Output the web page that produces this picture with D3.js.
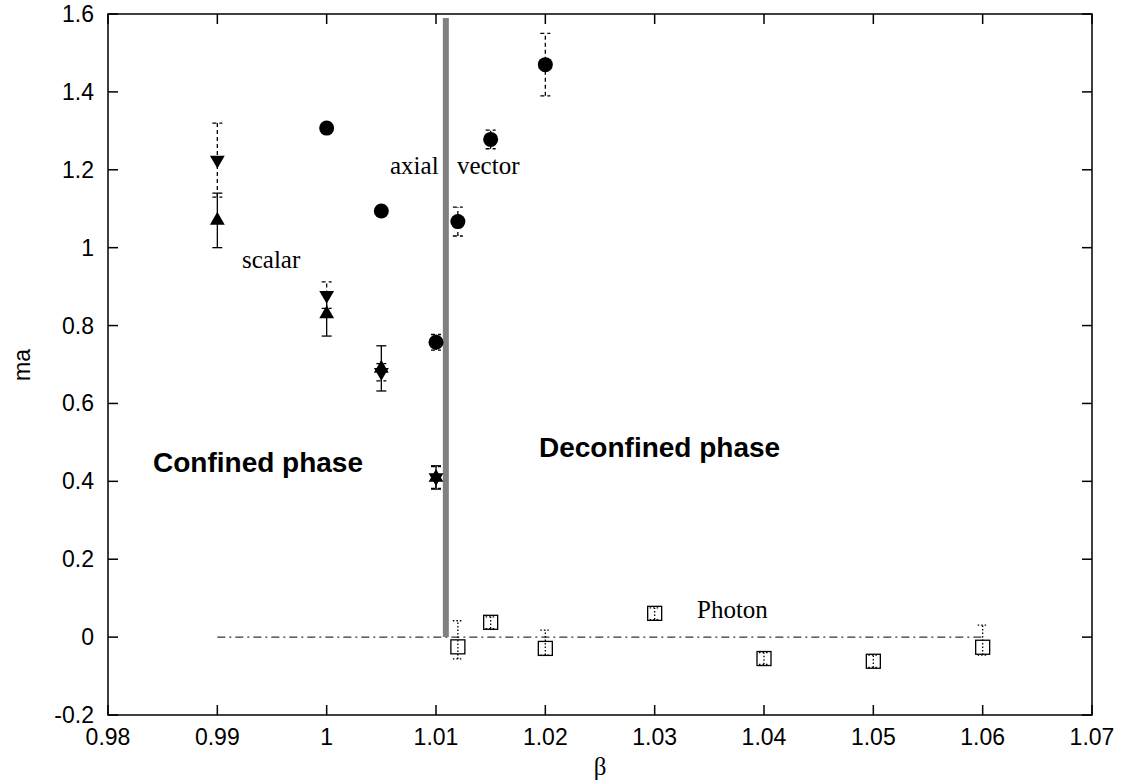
<!DOCTYPE html>
<html lang="en">
<head>
    <meta charset="UTF-8">
    <title>ma vs beta</title>
    <script src="https://d3js.org/d3.v7.min.js"></script>
    <style>
        body { margin: 0; background: #fff; }
        .tick-label { font-family: "Liberation Sans", Arial, sans-serif; font-size: 23px; fill: #000; }
        .note { font-family: "Liberation Serif", "Times New Roman", serif; font-size: 25px; fill: #000; }
        .phase { font-family: "Liberation Sans", Arial, sans-serif; font-size: 28px; font-weight: bold; fill: #000; }
    </style>
</head>
<body>
<div id="chart"></div>
<script>
// scalar channel: up triangles (solid bars) and down triangles (dashed bars)
const scalarBeta = [0.99, 1.0, 1.005, 1.01];
const scalarUp = [1.07, 0.83, 0.69, 0.41];
const scalarUpErr = [0.07, 0.057, 0.058, 0.03];
const scalarDown = [1.225, 0.878, 0.68, 0.41];
const scalarDownErr = [0.095, 0.034, 0.022, 0.028];

// axial vector channel: circles (dashed bars)
const axialBeta = [1.0, 1.005, 1.01, 1.012, 1.015, 1.02];
const axialMass = [1.307, 1.094, 0.757, 1.067, 1.278, 1.47];
const axialErr = [0, 0, 0.02, 0.037, 0.024, 0.08];

// photon: squares (dotted bars)
const photonBeta = [1.012, 1.015, 1.02, 1.03, 1.04, 1.05, 1.06];
const photonMass = [-0.025, 0.038, -0.029, 0.061, -0.055, -0.062, -0.026];
const photonLo = [-0.056, 0.022, -0.046, 0.045, -0.07, -0.078, -0.046];
const photonHi = [0.042, 0.052, 0.018, 0.075, -0.04, -0.046, 0.031];

const xTicks = [0.98, 0.99, 1.0, 1.01, 1.02, 1.03, 1.04, 1.05, 1.06, 1.07];
const yTicks = [-0.2, 0, 0.2, 0.4, 0.6, 0.8, 1.0, 1.2, 1.4, 1.6];

const transitionBeta = 1.0109;
const transitionTop = 1.59;
const zeroLine = [0.99, 1.06];

const W = 1123, H = 782;
const x = d3.scaleLinear().domain([0.98, 1.07]).range([108, 1092]);
const y = d3.scaleLinear().domain([-0.2, 1.6]).range([715, 14]);

const svg = d3.select("#chart").append("svg")
    .attr("width", W).attr("height", H);

// frame
svg.append("rect")
    .attr("x", x(0.98)).attr("y", y(1.6))
    .attr("width", x(1.07) - x(0.98)).attr("height", y(-0.2) - y(1.6))
    .attr("fill", "none").attr("stroke", "#000").attr("stroke-width", 1.5);

// ticks pointing inward on all four sides
const tl = 10;
const fmt = d => String(+d.toFixed(2));
svg.append("g").selectAll("line").data(yTicks).join("line")
    .attr("x1", x(0.98)).attr("x2", x(0.98) + tl)
    .attr("y1", d => y(d)).attr("y2", d => y(d))
    .attr("stroke", "#000").attr("stroke-width", 1.5);
svg.append("g").selectAll("line").data(yTicks).join("line")
    .attr("x1", x(1.07)).attr("x2", x(1.07) - tl)
    .attr("y1", d => y(d)).attr("y2", d => y(d))
    .attr("stroke", "#000").attr("stroke-width", 1.5);
svg.append("g").selectAll("line").data(xTicks).join("line")
    .attr("x1", d => x(d)).attr("x2", d => x(d))
    .attr("y1", y(-0.2)).attr("y2", y(-0.2) - tl)
    .attr("stroke", "#000").attr("stroke-width", 1.5);
svg.append("g").selectAll("line").data(xTicks).join("line")
    .attr("x1", d => x(d)).attr("x2", d => x(d))
    .attr("y1", y(1.6)).attr("y2", y(1.6) + tl)
    .attr("stroke", "#000").attr("stroke-width", 1.5);

svg.append("g").selectAll("text").data(yTicks).join("text")
    .attr("class", "tick-label")
    .attr("x", x(0.98) - 14).attr("y", d => y(d) + 8)
    .attr("text-anchor", "end")
    .text(d => fmt(d));
svg.append("g").selectAll("text").data(xTicks).join("text")
    .attr("class", "tick-label")
    .attr("x", d => x(d)).attr("y", 745)
    .attr("text-anchor", "middle")
    .text(d => fmt(d));

// axis titles
svg.append("text").attr("class", "tick-label")
    .attr("transform", `translate(30, 365) rotate(-90)`)
    .attr("text-anchor", "middle").text("ma");
svg.append("text").attr("class", "note")
    .attr("x", (x(0.98) + x(1.07)) / 2).attr("y", 775)
    .attr("text-anchor", "middle").style("font-size", "25px").text("β");

// y = 0 dash-dot line
svg.append("line")
    .attr("x1", x(zeroLine[0])).attr("x2", x(zeroLine[1]))
    .attr("y1", y(0)).attr("y2", y(0))
    .attr("stroke", "#000").attr("stroke-width", 1)
    .attr("stroke-dasharray", "8,4,2,4");

// phase transition line
svg.append("line")
    .attr("x1", x(transitionBeta)).attr("x2", x(transitionBeta))
    .attr("y1", y(0)).attr("y2", y(transitionTop))
    .attr("stroke", "#808080").attr("stroke-width", 6);

// error bar helper
function errBar(bx, lo, hi, dash) {
    const g = svg.append("g").attr("stroke", "#000").attr("stroke-width", 1.3)
        .attr("stroke-dasharray", dash);
    g.append("line").attr("x1", x(bx)).attr("x2", x(bx)).attr("y1", y(lo)).attr("y2", y(hi));
    [lo, hi].forEach(v => g.append("line")
        .attr("x1", x(bx) - 5).attr("x2", x(bx) + 5)
        .attr("y1", y(v)).attr("y2", y(v)));
}

scalarBeta.forEach((b, i) => {
    errBar(b, scalarUp[i] - scalarUpErr[i], scalarUp[i] + scalarUpErr[i], null);
    errBar(b, scalarDown[i] - scalarDownErr[i], scalarDown[i] + scalarDownErr[i], "4,3");
});
axialBeta.forEach((b, i) => {
    if (axialErr[i] > 0) errBar(b, axialMass[i] - axialErr[i], axialMass[i] + axialErr[i], "4,3");
});

const triUp = d3.symbol().type(d3.symbolTriangle).size(95);
svg.append("g").selectAll("path").data(scalarBeta).join("path")
    .attr("d", triUp)
    .attr("transform", (d, i) => `translate(${x(d)},${y(scalarUp[i])})`)
    .attr("fill", "#000");
svg.append("g").selectAll("path").data(scalarBeta).join("path")
    .attr("d", triUp)
    .attr("transform", (d, i) => `translate(${x(d)},${y(scalarDown[i])}) rotate(180)`)
    .attr("fill", "#000");

svg.append("g").selectAll("circle").data(axialBeta).join("circle")
    .attr("cx", d => x(d)).attr("cy", (d, i) => y(axialMass[i]))
    .attr("r", 7.5).attr("fill", "#000");

// photon squares
svg.append("g").selectAll("rect").data(photonBeta).join("rect")
    .attr("x", d => x(d) - 7).attr("y", (d, i) => y(photonMass[i]) - 7)
    .attr("width", 14).attr("height", 14)
    .attr("fill", "none").attr("stroke", "#000").attr("stroke-width", 1.3);
photonBeta.forEach((b, i) => errBar(b, photonLo[i], photonHi[i], "1.5,2"));

// labels
svg.append("text").attr("class", "note").attr("x", 242).attr("y", 268).text("scalar");
svg.append("text").attr("class", "note").attr("x", 390).attr("y", 174).text("axial");
svg.append("text").attr("class", "note").attr("x", 457).attr("y", 174).text("vector");
svg.append("text").attr("class", "note").attr("x", 697).attr("y", 618).text("Photon");
svg.append("text").attr("class", "phase").attr("x", 153).attr("y", 472).text("Confined phase");
svg.append("text").attr("class", "phase").attr("x", 539).attr("y", 457).text("Deconfined phase");
</script>
</body>
</html>
